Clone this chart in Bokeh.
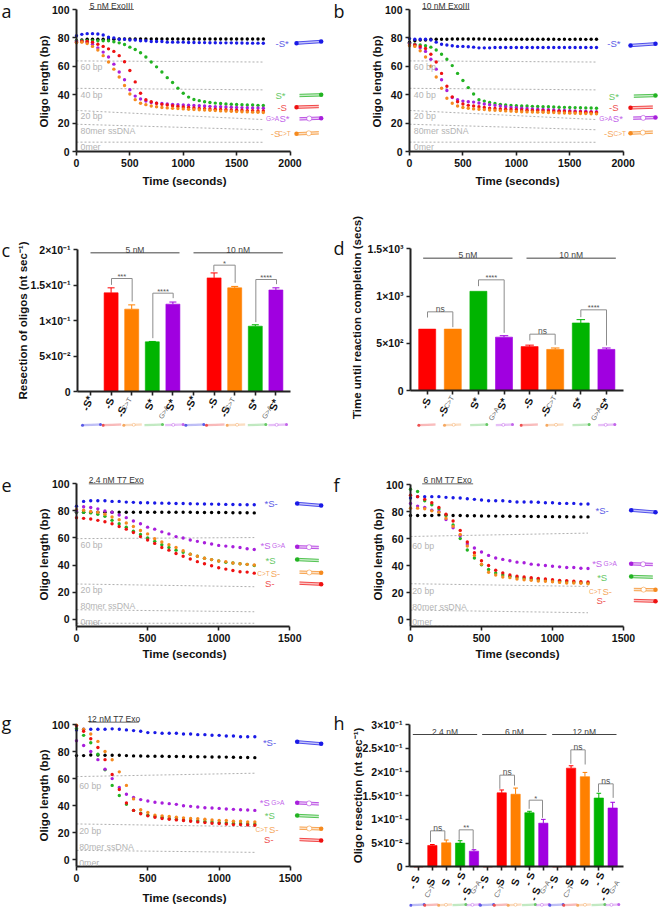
from bokeh.plotting import figure
from bokeh.models import Range1d, Label, FixedTicker
from bokeh.layouts import column, row
from bokeh.embed import file_html
from bokeh.resources import INLINE

SANS = "Liberation Sans"
BLACK, BLUE, GREEN, RED, PURPLE, ORANGE = "#000000", "#1a1ae6", "#22b322", "#ee1111", "#a81fdc", "#f58a1f"
BAR_RED, BAR_OR, BAR_GR, BAR_PU = "#ff0000", "#ff8000", "#00b400", "#a000e0"
LIGHT = {BLUE: "#5a5ae6", GREEN: "#66c866", RED: "#ee5050", PURPLE: "#c264ea", ORANGE: "#f5a860"}

t_long = list(range(0, 1800, 50))
t_short = list(range(0, 1300, 50))

a_black = [78, 78.5, 79, 79, 79, 79, 79, 79, 79.2, 79.2, 79.2, 79.2, 79.2, 79.2, 79.2, 79.2, 79.2, 79.2, 79.2, 79.2, 79.2, 79.2, 79.2, 79.2, 79.2, 79.2, 79.2, 79.2, 79.2, 79.2, 79.2, 79.2, 79.2, 79.2, 79.2, 79.2]
a_blue = [81.5, 82.5, 83, 83, 82.7, 82, 80.5, 80, 79, 79, 78.5, 78.5, 78, 78, 77.5, 77.5, 77.5, 77, 77, 77, 77, 76.8, 76.8, 76.7, 76.7, 76.6, 76.6, 76.5, 76.5, 76.5, 76.4, 76.4, 76.3, 76.3, 76.3, 76.2]
a_green = [78, 78, 78, 78, 78, 78, 78, 77.3, 76.5, 75.3, 73.5, 71.8, 69.5, 66.5, 63, 59.6, 56, 52, 48.6, 44.6, 41, 38.3, 36.6, 35.8, 35, 34.5, 34.1, 33.8, 33.5, 33.3, 33.1, 33, 32.8, 32.7, 32.5, 32.4]
a_red = [77, 77.5, 77.5, 77, 75.5, 74, 72.3, 70.5, 67.5, 63.2, 57, 49, 41, 36.5, 35, 34, 33.2, 32.7, 32.2, 31.7, 31.3, 31, 30.7, 30.4, 30.2, 30, 29.8, 29.6, 29.4, 29.2, 29.1, 29, 28.8, 28.7, 28.6, 28.5]
a_purple = [77.5, 77.5, 77, 75.5, 73, 70, 66.5, 61.5, 56, 50.5, 43.5, 39, 37, 35.5, 34.5, 34, 33.8, 33.5, 33.2, 33, 32.8, 32.6, 32.4, 32.2, 32, 31.8, 31.6, 31.5, 31.3, 31.2, 31, 30.9, 30.8, 30.7, 30.6, 30.5]
a_orange = [76.5, 77, 76, 74, 71.5, 67.5, 63, 58, 52.5, 46.5, 40.5, 36.5, 34, 33, 32, 31.5, 31, 30.7, 30.4, 30.2, 30, 29.8, 29.6, 29.4, 29.2, 29, 28.8, 28.6, 28.5, 28.3, 28.1, 28, 27.9, 27.7, 27.6, 27.5]

b_black = [77, 78, 78.5, 78.5, 79, 79, 79, 79, 79.2, 79.2, 79.2, 79.2, 79.2, 79.2, 79.2, 79, 79, 79, 79, 79, 79, 79, 79, 79, 79, 79, 79, 79, 79, 79, 79, 79, 79, 79, 79, 79]
b_blue = [79.5, 79, 79, 79, 78.5, 77, 75.5, 75, 74.5, 74, 74, 73.8, 73.5, 73, 73, 73, 73.2, 73.2, 73.2, 73.2, 73.2, 73.2, 73.2, 73.2, 73.2, 73.2, 73.2, 73.2, 73.2, 73.2, 73.2, 73.2, 73.2, 73.2, 73.2, 73.2]
b_green = [76, 75.5, 75, 74.5, 73.5, 71.5, 68.5, 65, 60.5, 55, 50, 45, 40.5, 36.5, 35.5, 34.5, 33.8, 33.2, 32.8, 32.5, 32.3, 32.1, 32, 31.8, 31.7, 31.6, 31.5, 31.3, 31.2, 31.1, 31, 30.9, 30.8, 30.7, 30.6, 30.5]
b_red = [75, 75, 74, 72.5, 68.5, 63, 55, 46, 38.5, 35, 33.5, 32.5, 32, 31.5, 31, 30.5, 30.3, 30, 29.8, 29.6, 29.4, 29.2, 29, 28.9, 28.8, 28.7, 28.5, 28.4, 28.3, 28.2, 28, 27.9, 27.8, 27.7, 27.6, 27.5]
b_purple = [76, 75, 73, 70.5, 65, 58, 50.5, 43, 38, 36.5, 35.5, 35, 34.8, 34.2, 33.5, 33, 32.5, 32, 31.5, 31, 30.8, 30.5, 30.3, 30, 29.8, 29.6, 29.4, 29.2, 29, 28.9, 28.8, 28.6, 28.4, 28.3, 28.1, 28]
b_orange = [74.5, 74, 71, 66.5, 60, 52.5, 44.5, 37.5, 34, 32, 31, 30.5, 30, 29.8, 29.5, 29.2, 29, 28.8, 28.6, 28.4, 28.2, 28, 27.9, 27.8, 27.7, 27.6, 27.5, 27.4, 27.2, 27.1, 27, 26.9, 26.8, 26.7, 26.6, 26.5]

e_black = [79, 79, 79, 79, 79, 79, 79, 79, 79, 79, 79, 79, 79, 79, 79, 79, 79, 78.8, 78.8, 78.8, 78.8, 78.8, 78.6, 78.6, 78.6, 78.5]
e_blue = [83.5, 87, 87.5, 87.5, 87.5, 87, 87, 86.5, 86.3, 86, 86, 85.8, 85.7, 85.6, 85.5, 85.4, 85.3, 85.2, 85.1, 85, 84.9, 84.8, 84.7, 84.6, 84.5, 84.5]
e_purple = [80, 83, 82.5, 81.5, 80, 79, 77, 75, 72.5, 70.5, 68, 66.5, 64.5, 63, 61, 60, 58.5, 57.5, 56.5, 55.5, 54.5, 54, 53.5, 53, 52, 51.5]
e_orange = [81, 80.5, 79.5, 79, 77.5, 75.5, 73.5, 71, 68.5, 65.5, 63, 59.5, 57, 55, 53, 50.5, 48, 46.5, 45, 44, 43, 42.5, 41.5, 41, 40.5, 40]
e_green = [79.5, 79, 78.5, 77.5, 76, 73, 70.5, 68, 65, 62.5, 60, 57.5, 55, 53, 51, 49.5, 48, 46.5, 45, 44, 43, 42, 41.5, 41, 40.5, 39.7]
e_red = [75, 74.5, 74, 73, 72, 70.5, 68.5, 66.5, 64, 61, 58.5, 56, 53, 51, 48.5, 46.5, 44.5, 42.5, 41, 39.5, 38, 37, 36, 35, 34.8, 34]

f_black = [77, 77, 77, 77, 77.5, 77.5, 77, 77, 76.8, 76.8, 76.7, 76.6, 76.6, 76.5, 76.5, 76.4, 76.4, 76.3, 76.3, 76.2, 76.2, 76.1, 76.1, 76, 76, 76]
f_blue = [90, 91, 91, 91, 91, 90.5, 90.2, 90, 89.5, 89, 88.5, 88, 88, 88, 87.5, 87, 87, 87, 86.8, 86.5, 86.5, 86, 86, 86, 85.5, 85.5]
f_green = [96.5, 94.8, 88, 85, 81.8, 77, 70, 60, 51.5, 45.5, 40.5, 37, 34.5, 33, 32, 31.3, 30.6, 30, 29.6, 29.2, 28.8, 28.4, 28, 27.6, 27.3, 27]
f_red = [92, 91, 89, 86.5, 83, 78, 73, 66, 57.5, 49.5, 43.5, 40, 36.5, 34.5, 33, 32, 31.5, 31, 30.5, 30, 29.5, 29, 28.8, 28.3, 28, 27.8]
f_purple = [86, 84, 83, 81, 80, 74, 68, 62, 56, 53, 50, 47.5, 45.5, 44.5, 43.5, 42.5, 42, 41, 40.5, 40, 39.5, 39, 38.5, 38.5, 38, 37.8]
f_orange = [82.5, 82.5, 82, 80.5, 79.5, 75, 69, 63, 54.5, 47.5, 41, 35, 33, 31.5, 31, 30, 29.5, 29, 28.5, 28.3, 28, 27.5, 27, 27, 26.8, 26.5]

g_black = [77, 77, 77.5, 77.5, 77.3, 77.3, 77.3, 77, 76.8, 76.7, 76.6, 76.5, 76.5, 76.4, 76.3, 76.3, 76.2, 76.2, 76.1, 76, 76, 75.9, 75.8, 75.7, 75.6, 75.5]
g_blue = [96, 96.5, 96.5, 96.5, 96.5, 96.8, 96.5, 96, 95.5, 95, 94, 94, 93.5, 93.5, 93.5, 93, 93, 92.5, 92.5, 92, 92, 91.5, 91.5, 91, 91, 91]
g_red = [99, 95, 89.5, 83, 74, 63, 52, 42, 36.5, 34, 32.5, 31.5, 30.5, 30, 29.5, 29, 28.5, 28, 27.5, 27, 26.8, 26.5, 26, 26, 25.8, 25.5]
g_orange = [99.5, 96.5, 93, 87.5, 80, 74, 65, 55, 45, 37, 35, 33, 32.5, 32, 31.5, 31, 30.5, 30.3, 30, 29.5, 29, 29, 28.5, 28.5, 28, 28]
g_green = [97, 92, 86.5, 78, 66.5, 55, 47.5, 41, 36.5, 34.5, 33, 32, 31.5, 30.5, 30, 29.5, 29, 28.8, 28.3, 28, 27.5, 27.2, 27, 26.8, 26.5, 26.3]
g_purple = [88, 84.5, 80, 74, 67, 60, 53.5, 48.5, 46, 44.5, 43.5, 42.5, 42, 41.5, 41, 40, 39.5, 39, 38.5, 38.3, 38, 37.5, 37.3, 37, 36.8, 36.5]

c_values = [0, 0.139, 0.116, 0.07, 0.123, 0, 0.16, 0.146, 0.092, 0.143]
c_errors = [0, 0.007, 0.006, 0.0005, 0.003, 0, 0.007, 0.002, 0.002, 0.003]
d_values = [650, 650, 1050, 565, 465, 435, 715, 435]
d_errors = [0, 0, 0, 15, 15, 15, 35, 15]
h_values = [0, 0.045, 0.0505, 0.05, 0.033, 0, 0.156, 0.153, 0.114, 0.092, 0, 0.208, 0.19, 0.145, 0.124]
h_errors = [0, 0.002, 0.006, 0.005, 0.003, 0, 0.006, 0.013, 0.003, 0.008, 0, 0.005, 0.009, 0.01, 0.012]


class Panel:
    """A cell of the page; the frame fills the cell and everything is placed at exact page pixels."""
    def __init__(self, cx, cy, w, h, xa, xap, xb, xbp, ya, yap, yb, ybp):
        self.cx, self.cy = cx, cy
        self.sx = (xb - xa) / (xbp - xap)
        self.sy = (yb - ya) / (ybp - yap)
        self.xa, self.xap, self.ya, self.yap = xa, xap, ya, yap
        self.p = figure(width=w, height=h, toolbar_location=None, output_backend="svg",
                        x_range=Range1d(self.X(cx), self.X(cx + w)), y_range=Range1d(self.Y(cy + h), self.Y(cy)),
                        min_border_left=0, min_border_right=0, min_border_top=0, min_border_bottom=0)
        p = self.p
        p.outline_line_color = None
        p.grid.visible = False
        p.background_fill_color = None
        p.border_fill_color = None

    def X(self, px):
        return self.xa + (px - self.xap) * self.sx

    def Y(self, py):
        return self.ya + (py - self.yap) * self.sy

    def text(self, px, py, s, size, color="#000000", bold=False, angle=0, align="center", font=SANS):
        self.p.add_layout(Label(x=self.X(px), y=self.Y(py), text=s, text_font_size=f"{size}px",
                                text_color=color, text_font_style="bold" if bold else "normal",
                                angle=angle, angle_units="deg", text_align=align,
                                text_baseline="middle", text_font=font))

    def seg(self, x0, y0, x1, y1, color="#444444", width=1.0, alpha=1.0, dash="solid"):
        self.p.line([self.X(x0), self.X(x1)], [self.Y(y0), self.Y(y1)], line_color=color,
                    line_width=width, line_alpha=alpha, line_dash=dash)

    def dot(self, x, y, color, size=4.5):
        self.p.scatter([self.X(x)], [self.Y(y)], size=size, fill_color=color, line_color=None)

    def schem(self, x0, y0, x1, y1, color, left=False, right=False, bubble=None, gap=1.2, size=4.5, lw=0.9, la=0.8):
        self.seg(x0, y0, x1, y1, color, gap * 2.4, 0.25)
        self.seg(x0, y0 - gap, x1, y1 - gap, color, lw, la)
        self.seg(x0, y0 + gap, x1, y1 + gap, color, lw, la)
        if bubble is not None:
            bx = x0 + (x1 - x0) * bubble
            by = y0 + (y1 - y0) * bubble
            self.p.scatter([self.X(bx)], [self.Y(by)], size=gap * 4.2, fill_color="#ffffff",
                           line_color=color, line_width=0.7, line_alpha=0.7)
        if left:
            self.dot(x0, y0, color, size)
        if right:
            self.dot(x1, y1, color, size)


def style_axes(P, xt, yt, xbounds, ybounds, xloc, yloc, yover=None, xover=None, ts=10.5):
    p = P.p
    for ax in (p.xaxis[0], p.yaxis[0]):
        ax.axis_line_width = 2
        ax.axis_line_color = "#222222"
        ax.major_tick_line_width = 1.6
        ax.major_tick_line_color = "#222222"
        ax.major_tick_in = 0
        ax.major_tick_out = 4
        ax.minor_tick_line_color = None
        ax.major_label_text_font = SANS
        ax.major_label_text_font_style = "bold"
        ax.major_label_text_font_size = f"{ts}px"
        ax.major_label_text_color = "#111111"
        ax.major_label_standoff = 3
    p.xaxis[0].ticker = FixedTicker(ticks=xt)
    p.yaxis[0].ticker = FixedTicker(ticks=yt)
    p.xaxis[0].bounds = xbounds
    p.yaxis[0].bounds = ybounds
    p.xaxis[0].fixed_location = xloc
    p.yaxis[0].fixed_location = yloc
    if yover:
        p.yaxis[0].major_label_overrides = yover
    if xover:
        p.xaxis[0].major_label_overrides = xover


def guide(P, pts):
    for (t0, v0, t1, v1) in pts:
        P.p.line([t0, t1], [v0, v1], line_color="#9a9a9a", line_width=0.8, line_dash="2 2")


def series(P, t, data):
    for vals, col in data:
        P.p.scatter(t[:len(vals)], vals, size=3.4, fill_color=col, line_color=None)


def s_label(P, px, py, s, col, small=None, small_dx=0, angle=0):
    P.text(px, py, s, 9.5, LIGHT.get(col, col), angle=angle)
    if small:
        P.text(px + small_dx, py, small, 6.5, LIGHT.get(col, col), angle=angle)


def zoomer(ox, oy):
    return lambda zx, zy: (ox + zx / 3.0, oy + zy / 3.0)


def time_panel(cx, cy, w, h, fl, xmax, xpx, y0, y100, ymin, t, data, guides, xticks, xlab_y, ylab_x, ylab_y, xlab_x):
    P = Panel(cx, cy, w, h, 0, fl, xmax, xpx, 0, y0, 100, y100)
    style_axes(P, xticks, [0, 20, 40, 60, 80, 100], (0, xmax), (ymin, 100), ymin, 0)
    guide(P, guides)
    series(P, t, data)
    P.text(xlab_x, xlab_y, "Time (seconds)", 11.5, "#111111", bold=True)
    P.text(ylab_x, ylab_y, "Oligo length (bp)", 11.5, "#111111", bold=True, angle=90)
    return P


def grey(P, Z, items):
    for zx, zy, s in items:
        px, py = Z(zx, zy)
        P.text(px, py, s, 8.8, "#b4b4b4", align="left")


def title(P, Z, zx0, zx1, zy, s):
    a = Z(zx0, zy)
    b = Z(zx1, zy)
    P.seg(a[0], a[1], b[0], b[1], "#555555", 0.9)
    c = Z((zx0 + zx1) / 2, zy - 11)
    P.text(c[0], c[1], s, 8.5, "#333333")


def letter(P, px, py, s):
    P.text(px, py, s, 18, "#111111", font="Open Sans", align="left")


def schems(P, Z, items):
    for it in items:
        x0, y0, x1, y1, col, l, r, bub = it
        a = Z(x0, y0)
        b = Z(x1, y1)
        P.schem(a[0], a[1], b[0], b[1], col, l, r, bub)


def labels(P, Z, items):
    for zx, zy, s, col, small, dx in items:
        a = Z(zx, zy)
        s_label(P, a[0], a[1], s, col, small, dx)


# ---------- a ----------
Pa = time_panel(0, 0, 330, 205, 76, 2000, 289.5, 151, 9, 0, t_long,
                [(a_black, BLACK), (a_blue, BLUE), (a_green, GREEN), (a_purple, PURPLE), (a_red, RED), (a_orange, ORANGE)],
                [(0, 63.8, 1750, 63), (0, 44.5, 1750, 43.4), (0, 28.9, 1750, 22.5), (0, 19.2, 1750, 15.3), (0, 6.6, 1750, 6.5)],
                [0, 500, 1000, 1500, 2000], 180, 43, 81, 184)
Za = zoomer(0, 0)
grey(Pa, Za, [(240, 200, "60 bp"), (240, 282, "40 bp"), (240, 345, "20 bp"), (240, 392, "80mer ssDNA"), (240, 440, "0mer")])
title(Pa, Za, 265, 400, 27, "5 nM ExoIII")
letter(Pa, 1, 10, "a")
schems(Pa, Za, [(888, 128, 962, 123, BLUE, True, True, None), (897, 285, 962, 283, GREEN, False, True, None),
                (888, 320, 955, 318, RED, True, False, None), (897, 355, 962, 353, PURPLE, False, True, .45),
                (888, 400, 955, 397, ORANGE, True, False, .55)])
labels(Pa, Za, [(845, 128, "-S*", BLUE, None, 0), (840, 285, "S*", GREEN, None, 0), (845, 320, "-S", RED, None, 0),
                (852, 353, "S*", PURPLE, "G>A", -12), (825, 400, "-S", ORANGE, "C>T", 9)])

# ---------- b ----------
Pb = time_panel(330, 0, 328, 205, 409, 2000, 622.7, 151, 9, 0, t_long,
                [(b_black, BLACK), (b_blue, BLUE), (b_green, GREEN), (b_purple, PURPLE), (b_red, RED), (b_orange, ORANGE)],
                [(0, 63.8, 1750, 63), (0, 44.5, 1750, 43.4), (0, 28.9, 1750, 22.5), (0, 19.2, 1750, 15.3), (0, 6.6, 1750, 6.5)],
                [0, 500, 1000, 1500, 2000], 180, 376, 81, 517)
Zb = zoomer(330, 0)
grey(Pb, Zb, [(250, 200, "60 bp"), (250, 282, "40 bp"), (250, 345, "20 bp"), (250, 392, "80mer ssDNA"), (250, 440, "0mer")])
title(Pb, Zb, 275, 417, 27, "10 nM ExoIII")
letter(Pb, 333, 10, "b")
schems(Pb, Zb, [(900, 135, 975, 130, BLUE, True, True, None), (910, 287, 975, 285, GREEN, False, True, None),
                (900, 322, 967, 320, RED, True, False, None), (908, 353, 975, 351, PURPLE, False, True, .45),
                (900, 398, 967, 395, ORANGE, True, False, .55)])
labels(Pb, Zb, [(850, 130, "-S*", BLUE, None, 0), (850, 287, "S*", GREEN, None, 0), (850, 322, "-S", RED, None, 0),
                (862, 355, "S*", PURPLE, "G>A", -12), (835, 400, "-S", ORANGE, "C>T", 11)])


def bar_panel(cx, cy, w, h, fl, pos0_px, step, y0, ytop, top, ticks, over, values, errors, colors, bwidth, xend, positions):
    P = Panel(cx, cy, w, h, 0, pos0_px, 1, pos0_px + step, 0, y0, top, ytop)
    style_axes(P, positions, ticks, (P.X(fl), P.X(xend)), (0, top), 0, P.X(fl), over,
               {k: "" for k in positions})
    p = P.p
    bw = bwidth / step
    p.vbar(x=positions, top=values, width=bw, fill_color=colors, line_color=colors, line_width=0.6)
    xs = [x for x, e in zip(positions, errors) if e > 0]
    tops = [v for v, e in zip(values, errors) if e > 0]
    ups = [v + e for v, e in zip(values, errors) if e > 0]
    cols = [c for c, e in zip(colors, errors) if e > 0]
    p.segment(xs, tops, xs, ups, line_color=cols, line_width=1)
    cap = bw * 0.25
    p.segment([x - cap for x in xs], ups, [x + cap for x in xs], ups, line_color=cols, line_width=1)
    return P


def bracket(P, Z, x0, y0, ytop, x1, y1, s):
    a0 = Z(x0, y0)
    at = Z(x0, ytop)
    bt = Z(x1, ytop)
    b1 = Z(x1, y1)
    P.seg(a0[0], a0[1], at[0], at[1], "#8c8c8c", 1)
    P.seg(at[0], at[1], bt[0], bt[1], "#8c8c8c", 1)
    P.seg(bt[0], bt[1], b1[0], b1[1], "#8c8c8c", 1)
    m = Z((x0 + x1) / 2, ytop - (6 if "*" in s else 9))
    P.text(m[0], m[1], s, 8.5 if s == "ns" else 7.5, "#555555")


def group(P, Z, x0, x1, zy, s):
    a = Z(x0, zy)
    b = Z(x1, zy)
    P.seg(a[0], a[1], b[0], b[1], "#444444", 1)
    m = Z((x0 + x1) / 2, zy - 9)
    P.text(m[0], m[1], s, 8.5, "#444444")


def catlabel(P, Z, parts, size=11):
    for zx, zy, s, small in parts:
        a = Z(zx, zy)
        if small:
            P.text(a[0], a[1], s, 7, "#666666", angle=60)
        else:
            P.text(a[0], a[1], s, size, "#111111", bold=True, angle=70)


def minis(P, Z, centers, width, zy, kinds):
    for c, k in zip(centers, kinds):
        col, l, r, b = k
        a = Z(c - width / 2, zy + 1)
        e = Z(c + width / 2, zy - 1)
        P.schem(a[0], a[1], e[0], e[1], LIGHT.get(col, col), l, r, b, gap=0.7, size=3, lw=0.5, la=0.6)


K_BLUE = (BLUE, True, True, None)
K_RED = (RED, True, False, None)
K_OR = (ORANGE, True, False, .55)
K_GR = (GREEN, False, True, None)
K_PU = (PURPLE, False, True, .45)

# ---------- c ----------
c_pos = list(range(10))
c_cols = [BAR_RED, BAR_RED, BAR_OR, BAR_GR, BAR_PU] * 2
c_over = {0: "0", 0.05: "5×10⁻²", 0.1: "1×10⁻¹", 0.15: "1.5×10⁻¹", 0.2: "2×10⁻¹"}
Pc = bar_panel(0, 205, 330, 255, 77, 90, 20.6, 391, 249, 0.2, [0, .05, .1, .15, .2], c_over,
               c_values, c_errors, c_cols, 14, 290, c_pos)
Zc = zoomer(0, 225)
Pc.text(22, 320, "Resection of oligos (nt sec⁻¹)", 11.5, "#111111", bold=True, angle=90)
letter(Pc, 1, 249, "c")
group(Pc, Zc, 270, 537, 82, "5 nM")
group(Pc, Zc, 579, 847, 82, "10 nM")
bracket(Pc, Zc, 333, 178, 159, 395, 228, "***")
bracket(Pc, Zc, 457, 338, 203, 518, 218, "****")
bracket(Pc, Zc, 640, 138, 119, 704, 172, "*")
bracket(Pc, Zc, 766, 290, 162, 828, 176, "****")
for off in (0, 310):
    catlabel(Pc, Zc, [(off + 260, 533, "-S*", False), (off + 325, 533, "-S", False), (off + 362, 558, "-S", False),
                      (off + 378, 535, "C>T", True), (off + 447, 537, "S*", False), (off + 490, 560, "G>A", True),
                      (off + 510, 538, "S*", False)], 10.5)
minis(Pc, Zc, [273, 335, 397, 459, 521, 583, 645, 707, 769, 831], 54, 598,
      [K_BLUE, K_RED, K_OR, K_GR, K_PU] * 2)

# ---------- d ----------
d_pos = list(range(8))
d_cols = [BAR_RED, BAR_OR, BAR_GR, BAR_PU] * 2
d_over = {0: "0", 500: "5×10²", 1000: "1×10³", 1500: "1.5×10³"}
Pd = bar_panel(330, 205, 328, 255, 410, 426.7, 25.6, 390, 248.3, 1500, [0, 500, 1000, 1500], d_over,
               d_values, d_errors, d_cols, 17, 623, d_pos)
Zd = zoomer(330, 225)
Pd.text(356, 317, "Time until reaction completion (secs)", 11.5, "#111111", bold=True, angle=90)
letter(Pd, 333, 247, "d")
group(Pd, Zd, 278, 546, 98, "5 nM")
group(Pd, Zd, 588, 856, 98, "10 nM")
bracket(Pd, Zd, 291, 276, 259, 367, 305, "ns")
bracket(Pd, Zd, 444, 182, 163, 521, 322, "****")
bracket(Pd, Zd, 598, 345, 326, 674, 358, "ns")
bracket(Pd, Zd, 751, 275, 253, 828, 360, "****")
for off in (0, 307):
    catlabel(Pd, Zd, [(off + 285, 533, "-S", False), (off + 337, 558, "-S", False), (off + 355, 530, "C>T", True),
                      (off + 433, 533, "S*", False), (off + 490, 565, "G>A", True), (off + 515, 535, "S*", False)], 10.5)
minis(Pd, Zd, [290, 367, 444, 521, 597, 674, 751, 828], 50, 598, [K_RED, K_OR, K_GR, K_PU] * 2)

# ---------- e ----------
Pe = time_panel(0, 460, 330, 215, 76, 1500, 289.3, 618.7, 483.3, -5.4, t_short,
                [(e_black, BLACK), (e_blue, BLUE), (e_green, GREEN), (e_orange, ORANGE), (e_purple, PURPLE), (e_red, RED)],
                [(0, 59.5, 1250, 60.3), (0, 26, 1250, 24), (0, 7, 1250, 5.5), (0, -3, 1250, -3)],
                [0, 500, 1000, 1500], 653, 43, 554, 184)
Ze = zoomer(0, 465)
grey(Pe, Ze, [(240, 237, "60 bp"), (240, 374, "20 bp"), (240, 421, "80mer ssDNA"), (240, 468, "0mer")])
title(Pe, Ze, 265, 430, 55, "2.4 nM T7 Exo")
letter(Pe, 1, 485, "e")
schems(Pe, Ze, [(890, 114, 962, 120, BLUE, True, True, None), (890, 244, 955, 246, PURPLE, True, False, .55),
                (890, 282, 955, 285, GREEN, True, False, None), (897, 320, 962, 322, ORANGE, False, True, .45),
                (897, 353, 962, 356, RED, False, True, None)])
labels(Pe, Ze, [(812, 115, "*S-", BLUE, None, 0), (795, 240, "*S", PURPLE, "G>A", 13), (810, 285, "*S", GREEN, None, 0),
                (825, 325, "S-", ORANGE, "C>T", -12), (808, 353, "S-", RED, None, 0)])

# ---------- f ----------
Pf = time_panel(330, 460, 328, 215, 410, 1500, 623, 619, 484, -5.2, t_short,
                [(f_black, BLACK), (f_blue, BLUE), (f_green, GREEN), (f_purple, PURPLE), (f_red, RED), (f_orange, ORANGE)],
                [(0, 61.5, 1250, 64), (0, 26.5, 1250, 24.5), (0, 7, 1250, 5), (0, -5, 1250, -5)],
                [0, 500, 1000, 1500], 653, 377, 554, 517)
Zf = zoomer(330, 465)
grey(Pf, Zf, [(245, 240, "60 bp"), (245, 376, "20 bp"), (245, 423, "80mer ssDNA"), (245, 470, "0mer")])
title(Pf, Zf, 275, 428, 55, "6 nM T7 Exo")
letter(Pf, 333, 484, "f")
schems(Pf, Zf, [(902, 134, 975, 140, BLUE, True, True, None), (902, 295, 967, 297, PURPLE, True, False, .55),
                (902, 333, 967, 335, GREEN, True, False, None), (910, 372, 975, 373, ORANGE, False, True, .45),
                (910, 405, 975, 407, RED, False, True, None)])
labels(Pf, Zf, [(815, 135, "*S-", BLUE, None, 0), (800, 293, "*S", PURPLE, "G>A", 13), (815, 335, "*S", GREEN, None, 0),
                (830, 377, "S-", ORANGE, "C>T", -12), (812, 405, "S-", RED, None, 0)])

# ---------- g ----------
Pg = time_panel(0, 675, 330, 232, 76, 1500, 290, 859.3, 724, -5, t_short,
                [(g_black, BLACK), (g_blue, BLUE), (g_green, GREEN), (g_purple, PURPLE), (g_orange, ORANGE), (g_red, RED)],
                [(0, 61.5, 1250, 64), (0, 26.5, 1250, 24.5), (0, 7, 1250, 5.5), (0, -5, 1250, -5)],
                [0, 500, 1000, 1500], 897, 43, 795, 184)
Zg = zoomer(0, 680)
grey(Pg, Zg, [(236, 315, "60 bp"), (236, 452, "20 bp"), (236, 498, "80mer ssDNA"), (236, 546, "0mer")])
title(Pg, Zg, 265, 415, 125, "12 nM T7 Exo")
letter(Pg, 1, 722, "g")
schems(Pg, Zg, [(890, 184, 962, 190, BLUE, True, True, None), (890, 367, 955, 370, PURPLE, True, False, .55),
                (890, 405, 955, 408, GREEN, True, False, None), (897, 443, 962, 445, ORANGE, False, True, .45),
                (897, 477, 962, 480, RED, False, True, None)])
labels(Pg, Zg, [(807, 187, "*S-", BLUE, None, 0), (793, 365, "*S", PURPLE, "G>A", 13), (808, 405, "*S", GREEN, None, 0),
                (820, 446, "S-", ORANGE, "C>T", -12), (805, 478, "S-", RED, None, 0)])

# ---------- h ----------
h_pos = list(range(15))
h_cols = [BAR_RED, BAR_RED, BAR_OR, BAR_GR, BAR_PU] * 3
h_over = {0: "0", 0.05: "5×10⁻²", 0.1: "1×10⁻¹", 0.15: "1.5×10⁻¹", 0.2: "2×10⁻¹", 0.25: "2.5×10⁻¹", 0.3: "3×10⁻¹"}
Ph = bar_panel(330, 675, 328, 232, 409, 418, 13.87, 866.3, 724, 0.3, [0, .05, .1, .15, .2, .25, .3], h_over,
               h_values, h_errors, h_cols, 9.3, 622.7, h_pos)
Zh = zoomer(330, 680)
Ph.text(357, 795, "Oligo resection (nt sec⁻¹)", 11.5, "#111111", bold=True, angle=90)
letter(Ph, 333, 722, "h")
group(Ph, Zh, 247, 440, 162, "2.4 nM")
group(Ph, Zh, 455, 648, 162, "6 nM")
group(Ph, Zh, 665, 858, 162, "12 nM")
bracket(Ph, Zh, 300, 485, 451, 343, 478, "ns")
bracket(Ph, Zh, 386, 478, 448, 428, 505, "**")
bracket(Ph, Zh, 508, 325, 284, 552, 315, "ns")
bracket(Ph, Zh, 596, 385, 359, 636, 412, "*")
bracket(Ph, Zh, 721, 250, 208, 764, 252, "ns")
bracket(Ph, Zh, 804, 335, 310, 848, 352, "ns")
for off in (0, 208, 416):
    catlabel(Ph, Zh, [(off + 250, 605, "- S", False), (off + 300, 605, "S", False), (off + 297, 632, "C>T", True),
                      (off + 345, 605, "S", False), (off + 388, 595, "- S", False), (off + 405, 640, "- S", False),
                      (off + 435, 620, "G>A", True)], 10.5)
minis(Ph, Zh, [261 + 41.7 * i for i in range(15)], 40, 673, [K_BLUE, K_RED, K_OR, K_GR, K_PU] * 3)

page = column(row(Pa.p, Pb.p, spacing=0), row(Pc.p, Pd.p, spacing=0), row(Pe.p, Pf.p, spacing=0),
              row(Pg.p, Ph.p, spacing=0), spacing=0)

open("out.html", "w").write(file_html(page, INLINE))
